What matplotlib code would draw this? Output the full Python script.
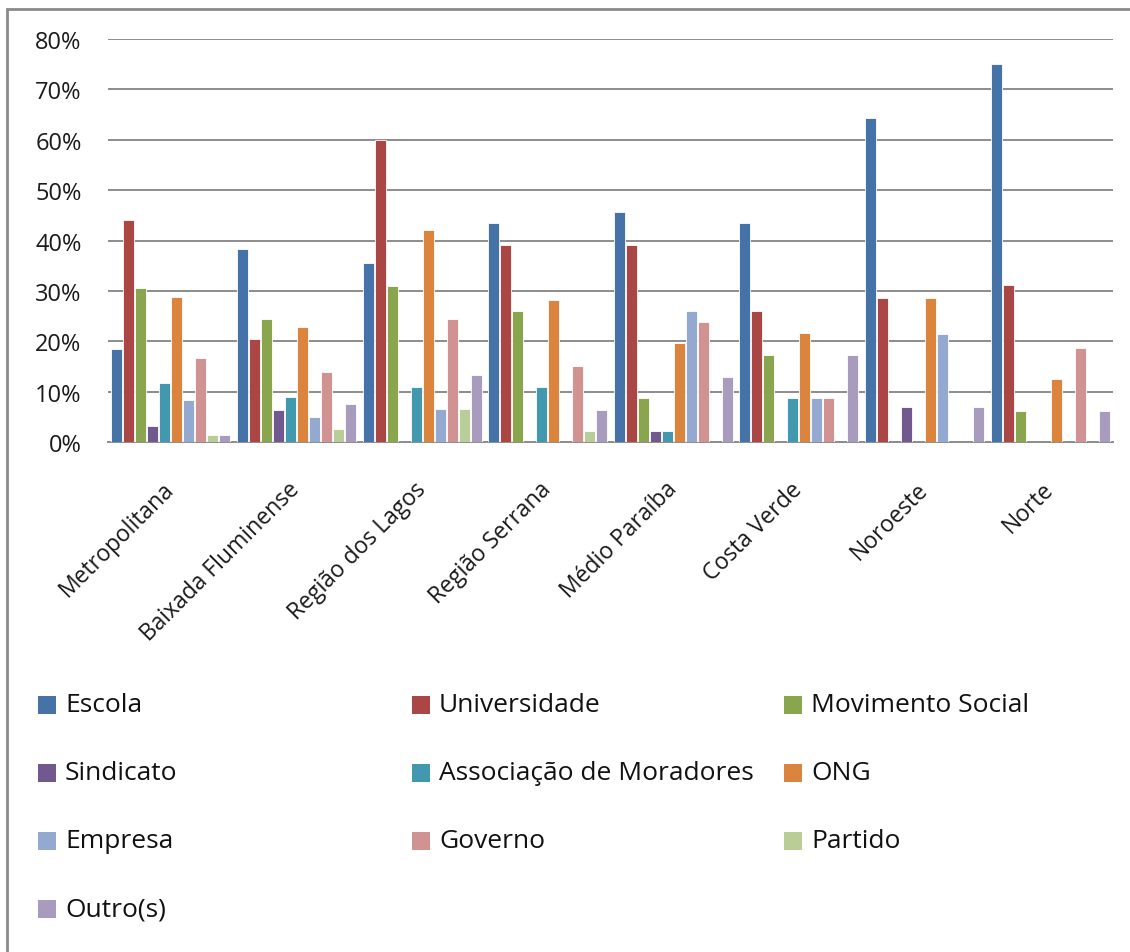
import numpy as np
import matplotlib
matplotlib.use('Agg')
import matplotlib.pyplot as plt
from matplotlib.patches import Rectangle
from matplotlib.ticker import PercentFormatter

# --- Data (% of respondents per region) ---
regioes = ['Metropolitana', 'Baixada Fluminense', 'Região dos Lagos', 'Região Serrana',
           'Médio Paraíba', 'Costa Verde', 'Noroeste', 'Norte']

escola = [18.5, 38.4, 35.6, 43.5, 45.6, 43.5, 64.3, 75.0]
universidade = [44.0, 20.4, 60.0, 39.1, 39.1, 26.1, 28.6, 31.25]
movimento_social = [30.6, 24.4, 31.0, 26.1, 8.7, 17.4, 0.0, 6.25]
sindicato = [3.3, 6.4, 0.0, 0.0, 2.2, 0.0, 7.1, 0.0]
associacao = [11.7, 8.9, 11.0, 10.9, 2.2, 8.7, 0.0, 0.0]
ong = [28.8, 22.9, 42.2, 28.3, 19.6, 21.7, 28.6, 12.5]
empresa = [8.4, 5.1, 6.7, 0.0, 26.1, 8.7, 21.4, 0.0]
governo = [16.8, 14.0, 24.4, 15.2, 23.9, 8.7, 0.0, 18.75]
partido = [1.5, 2.6, 6.7, 2.2, 0.0, 0.0, 0.0, 0.0]
outros = [1.5, 7.6, 13.3, 6.5, 13.0, 17.4, 7.1, 6.25]

series_nomes = ['Escola', 'Universidade', 'Movimento Social', 'Sindicato',
                'Associação de Moradores', 'ONG', 'Empresa', 'Governo', 'Partido', 'Outro(s)']
series_valores = [escola, universidade, movimento_social, sindicato, associacao,
                  ong, empresa, governo, partido, outros]
cores = ['#4572A7', '#AA4643', '#89A54E', '#71588F', '#4198AF',
         '#DB843D', '#93A9CF', '#D19392', '#B9CD96', '#A99BBD']

plt.rcParams['font.family'] = ['Open Sans', 'DejaVu Sans']

W, H = 1130, 953
fig = plt.figure(figsize=(W / 100, H / 100), dpi=100)
ax = fig.add_axes([108 / W, 1 - 443.3 / H, (1113 - 108) / W, (443.3 - 40) / H])

n = len(series_nomes)
passo = 0.0955
largura = 0.088
x = np.arange(len(regioes))
for i, (nome, vals, cor) in enumerate(zip(series_nomes, series_valores, cores)):
    desloc = (i - (n - 1) / 2) * passo
    ax.bar(x + desloc, vals, width=largura, color=cor, edgecolor='white',
           linewidth=0.6, zorder=3)

ax.set_xlim(-0.5, len(regioes) - 0.5)
ax.set_ylim(0, 80)
ax.set_yticks(np.arange(0, 81, 10))
ax.yaxis.set_major_formatter(PercentFormatter(decimals=0))
ax.yaxis.grid(True, color='#8c8c8c', linewidth=1.4, zorder=0)
ax.tick_params(axis='y', length=0, pad=19, labelsize=17, labelcolor='#1a1a1a')
ax.set_xticks(x)
ax.set_xticklabels(regioes, rotation=45, ha='right', va='center',
                   rotation_mode='anchor', fontsize=16.5, color='#1a1a1a')
ax.tick_params(axis='x', length=0, pad=31)
for lado in ['top', 'right', 'left']:
    ax.spines[lado].set_visible(False)
ax.spines['bottom'].set_color('#8c8c8c')
ax.spines['bottom'].set_linewidth(1.4)

# Legend in three columns below the chart
col_x = [38, 412, 784]
lin_y = [706, 774, 842, 910]
for i, (nome, cor) in enumerate(zip(series_nomes, cores)):
    cx = col_x[i % 3]
    cy = lin_y[i // 3]
    fig.add_artist(Rectangle((cx / W, 1 - (cy + 9) / H), 18 / W, 18 / H,
                             transform=fig.transFigure, facecolor=cor,
                             edgecolor='none'))
    fig.text((cx + 27) / W, 1 - cy / H, nome, fontsize=19, va='center',
             ha='left', color='#111111')

# Outer chart frame
fig.add_artist(Rectangle((7 / W, -0.2), 1.5, 1.2 - 10 / H, transform=fig.transFigure,
                         fill=False, edgecolor='#8a8a8a', linewidth=2))

fig.savefig('out.png', dpi=100)
